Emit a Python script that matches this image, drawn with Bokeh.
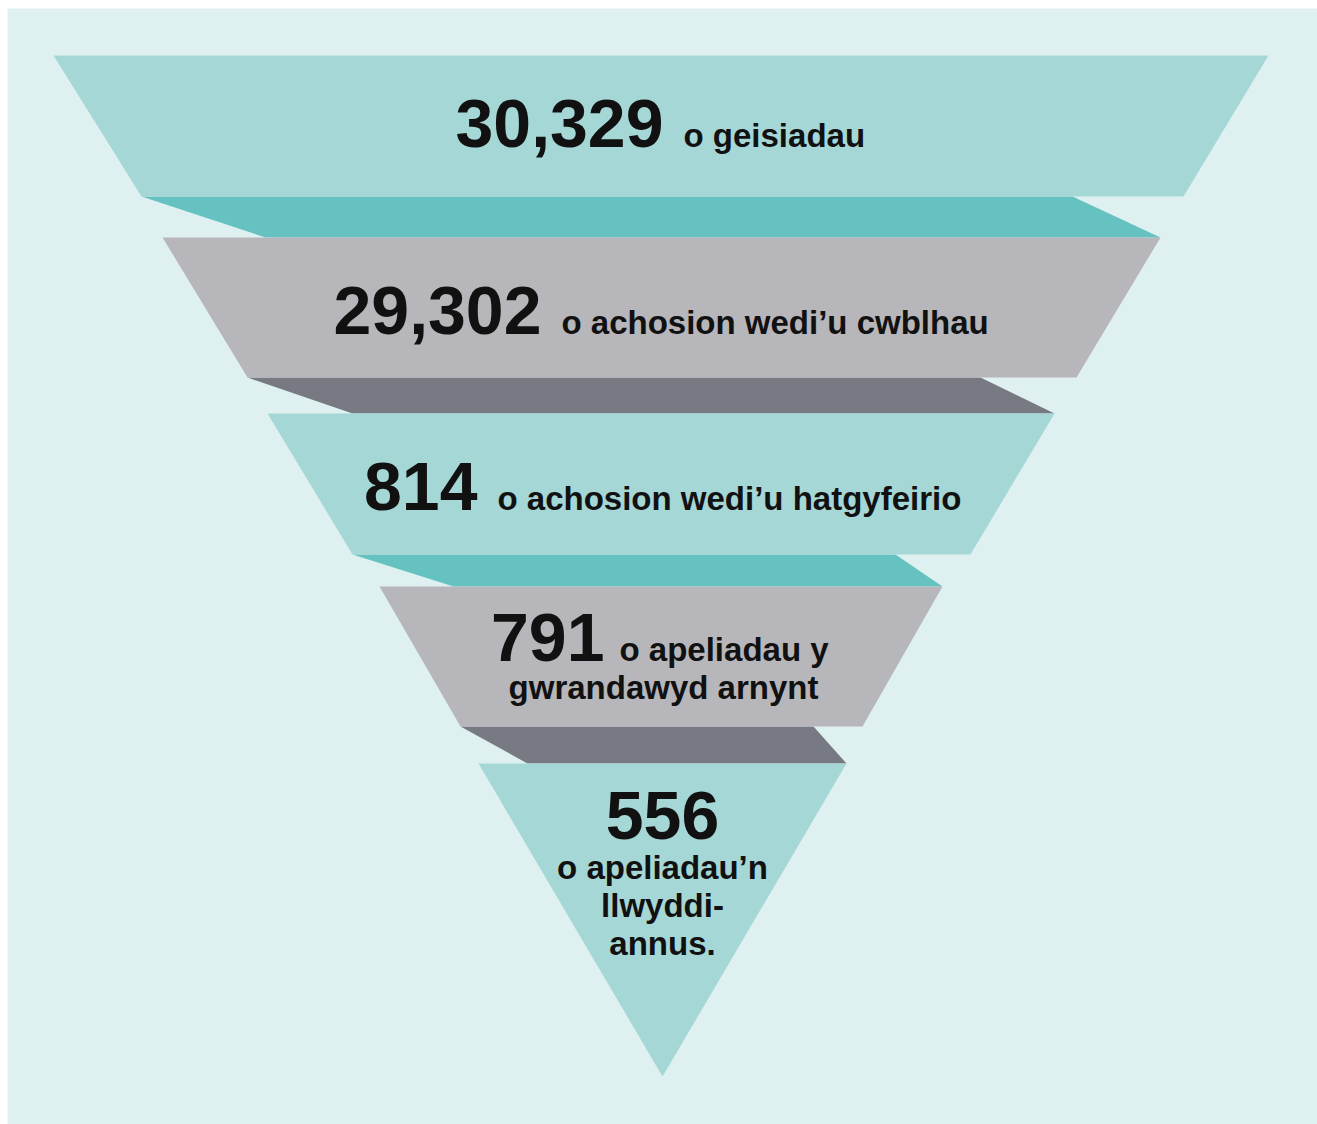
from bokeh.plotting import figure
from bokeh.models import Range1d
from bokeh.core.properties import value
from bokeh.embed import file_html
from bokeh.resources import INLINE

# ---- data ----
values = [30329, 29302, 814, 791, 556]
captions = [
    ["o geisiadau"],
    ["o achosion wedi\u2019u cwblhau"],
    ["o achosion wedi\u2019u hatgyfeirio"],
    ["o apeliadau y", "gwrandawyd arnynt"],
    ["o apeliadau\u2019n", "llwyddi-", "annus."],
]

# ---- layout (pixel units of the page) ----
W, H = 1317, 1124
X0, Y0 = 7, 8
band_top = [55, 237, 413, 586, 763]
band_bot = [196, 377, 554, 726, 1076]
top_left = [53, 162, 267, 379, 478]
top_right = [1268, 1160, 1054, 942, 846]
bot_left = [141, 247, 352, 460, 662]
bot_right = [1183, 1076, 970, 862, 662]
# connector ribbons between bands
conn_top_right = [1072, 980, 895, 813]
conn_bot_left = [265, 352, 453, 527]

band_colors = ["#a5d7d6", "#b7b6bb", "#a5d7d6", "#b7b6bb", "#a5d7d6"]
conn_colors = ["#66c2c1", "#777a83", "#66c2c1", "#777a83"]
bg = "#dff0f0"

p = figure(width=W, height=H, x_range=Range1d(X0, W), y_range=Range1d(H, Y0),
           output_backend="svg", toolbar_location=None,
           min_border_left=X0, min_border_top=Y0, min_border_right=0, min_border_bottom=0,
           background_fill_color=bg, border_fill_color="white", outline_line_color=None)
p.axis.visible = False
p.grid.visible = False

# connectors (drawn first)
for i in range(4):
    xs = [bot_left[i], conn_top_right[i], top_right[i + 1], conn_bot_left[i]]
    ys = [band_bot[i], band_bot[i], band_top[i + 1], band_top[i + 1]]
    p.patch(xs, ys, fill_color=conn_colors[i], line_color=None)

# bands
for i in range(5):
    xs = [top_left[i], top_right[i], bot_right[i], bot_left[i]]
    ys = [band_top[i], band_top[i], band_bot[i], band_bot[i]]
    p.patch(xs, ys, fill_color=band_colors[i], line_color=None)

font = value("Liberation Sans")
num_size = "68px"
cap_size = "33px"
NUM_OFF = 25   # renderer baseline compensation
CAP_OFF = 12
ink = "#111111"

nums = [f"{v:,}" for v in values]

def num(x, y, t, align):
    p.text(x=[x], y=[y - NUM_OFF], text=[t], text_font=font, text_font_size=num_size,
           text_font_style="bold", text_align=align, text_baseline="alphabetic", text_color=ink)

def cap(x, y, t, align):
    p.text(x=[x], y=[y - CAP_OFF], text=[t], text_font=font, text_font_size=cap_size,
           text_font_style="bold", text_align=align, text_baseline="alphabetic", text_color=ink)

# rows 1-3: number + caption on same line
num_right = [663, 541, 477]
base = [148, 335, 511]
for i in range(3):
    num(num_right[i], base[i], nums[i], "right")
    cap(num_right[i] + 20, base[i] - 1, captions[i][0], "left")

# row 4
num(604, 662, nums[3], "right")
cap(619, 661, captions[3][0], "left")
cap(663, 699, captions[3][1], "center")

# row 5
num(662, 840, nums[4], "center")
for j, t in enumerate(captions[4]):
    cap(662, 879 + 38 * j, t, "center")

open("out.html", "w").write(file_html(p, INLINE))
